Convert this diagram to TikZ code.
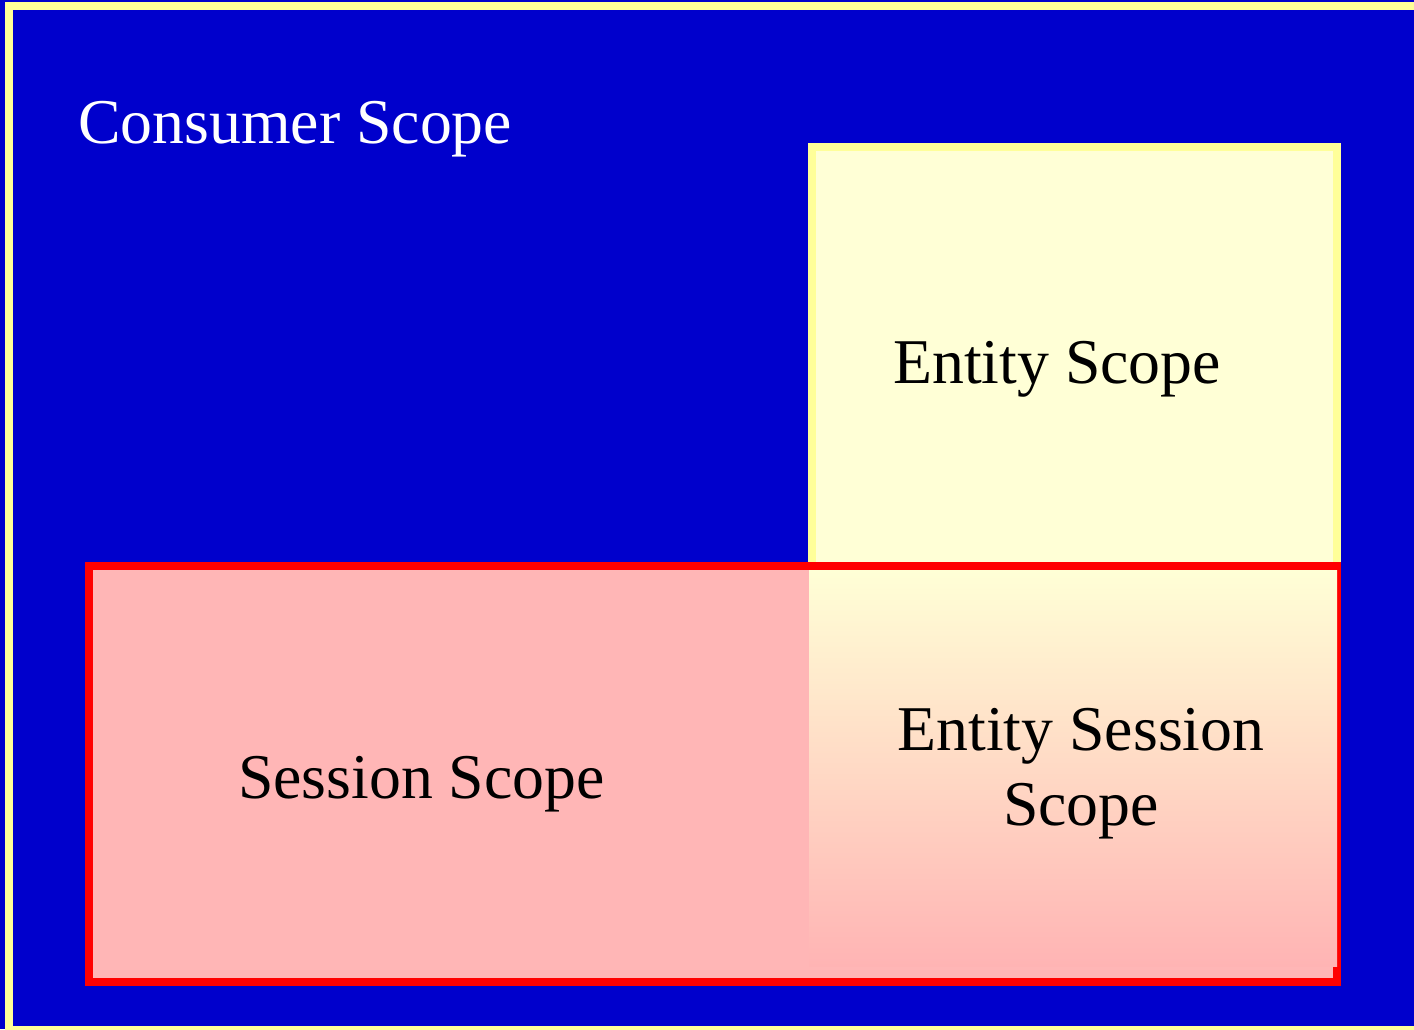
\documentclass[tikz,border=0pt]{standalone}
\usepackage{fontspec}
\setmainfont{Liberation Serif}
\definecolor{deepblue}{HTML}{0000CC}
\definecolor{paleyellow}{HTML}{FFFF99}
\definecolor{creamfill}{HTML}{FFFFD6}
\definecolor{pinkfill}{HTML}{FFB6B6}
\definecolor{pinkbottom}{HTML}{FFB4B4}
\definecolor{scopered}{HTML}{FF0000}
\begin{document}
\begin{tikzpicture}[x=1bp,y=-1bp,
  label text/.style={font=\fontsize{64}{75}\selectfont, inner sep=0pt, align=center},
  thick border/.style={line width=8bp}]
  \useasboundingbox (0,0) rectangle (1414,1029);
  \fill[deepblue] (0,0) rectangle (1414,1029);
  \begin{scope}
    \clip (0,0) rectangle (1414,1029);
    % consumer frame
    \draw[paleyellow, thick border] (9,6) rectangle (1420,1030);
  \end{scope}
  % entity scope box
  \draw[paleyellow, fill=creamfill, thick border] (812,147) rectangle (1337,570);
  % session scope box
  \draw[scopered, fill=pinkfill, thick border] (89,566) rectangle (1337,982);
  % overlap of entity and session scopes
  \shade[top color=creamfill, bottom color=pinkbottom] (809,570) rectangle (1337,966);
  % labels
  \node[label text, text=white, anchor=base west] (consumer) at (78,143) {Consumer Scope};
  \node[label text, anchor=base west] (entity) at (893,383) {Entity Scope};
  \node[label text, anchor=base west] (session) at (238,798) {Session Scope};
  \node[label text, anchor=base] (entsess) at (1081,825) {Entity Session\\Scope};
\end{tikzpicture}
\end{document}
